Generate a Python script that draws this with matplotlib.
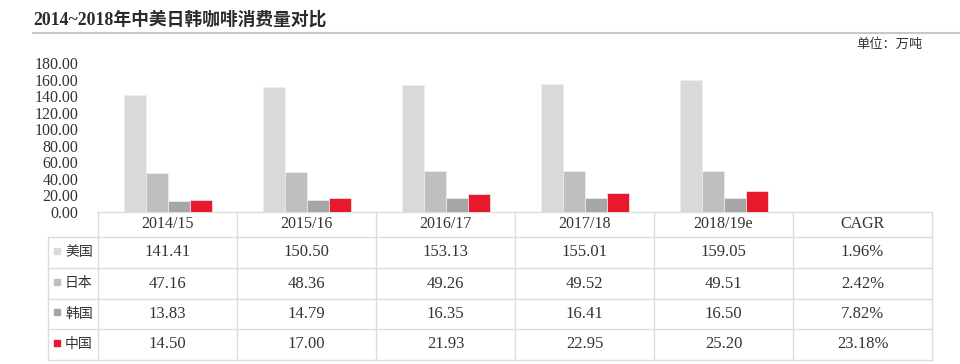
import matplotlib
matplotlib.use("Agg")
import matplotlib.pyplot as plt
import numpy as np

# data
periods = ["2014/15", "2015/16", "2016/17", "2017/18", "2018/19e"]
countries = ["美国", "日本", "韩国", "中国"]
usa = [141.41, 150.50, 153.13, 155.01, 159.05]
japan = [47.16, 48.36, 49.26, 49.52, 49.51]
korea = [13.83, 14.79, 16.35, 16.41, 16.50]
china = [14.50, 17.00, 21.93, 22.95, 25.20]
cagr = ["1.96%", "2.42%", "7.82%", "23.18%"]
yticks = np.arange(0, 181, 20)

colors = ["#d9d9d9", "#bfbfbf", "#a6a6a6", "#e8192c"]
fam = ["Liberation Serif", "Noto Sans CJK SC"]
W, H = 960, 364

fig = plt.figure(figsize=(9.6, 3.64), dpi=100)

# pixel overlay for title and table
ov = fig.add_axes([0, 0, 1, 1])
ov.set_xlim(0, W)
ov.set_ylim(H, 0)
ov.axis("off")

ov.text(33, 20, "2014~2018年中美日韩咖啡消费量对比", family=fam, fontsize=12.8,
        fontweight="bold", color="#2b2b2b", va="center", ha="left")
ov.plot([33, 960], [33, 33], color="#c8c8c8", lw=1.5)
ov.text(923, 45, "单位：万吨", family=fam, fontsize=9.5, color="#333333",
        va="center", ha="right")

# table geometry
x0, lab0 = 98, 48
colw = 139
ncol = len(periods) + 1
xr = x0 + colw * ncol
rows_y = [212, 237, 268, 299, 329, 360]
gc = "#dcdcdc"
for i, y in enumerate(rows_y):
    ov.plot([x0 if i == 0 else lab0, xr], [y, y], color=gc, lw=1)
ov.plot([lab0, lab0], [rows_y[1], rows_y[-1]], color=gc, lw=1)
for j in range(ncol + 1):
    ov.plot([x0 + j * colw] * 2, [rows_y[0], rows_y[-1]], color=gc, lw=1)

headers = periods + ["CAGR"]
for j, h in enumerate(headers):
    ov.text(x0 + colw * (j + 0.5), (rows_y[0] + rows_y[1]) / 2, h, family=fam,
            fontsize=11.5, color="#333333", ha="center", va="center")

series = [usa, japan, korea, china]
for i, (name, vals) in enumerate(zip(countries, series)):
    yc = (rows_y[i + 1] + rows_y[i + 2]) / 2
    ov.add_patch(plt.Rectangle((54, yc - 5), 6, 6, color=colors[i]))
    ov.text(65, yc, name, family=fam, fontsize=10, color="#333333",
            ha="left", va="center")
    cells = ["%.2f" % v for v in vals] + [cagr[i]]
    for j, c in enumerate(cells):
        ov.text(x0 + colw * (j + 0.5), yc, c, family=fam, fontsize=12,
                color="#333333", ha="center", va="center")

# bar chart
ax = fig.add_axes([x0 / W, (H - 212) / H, (xr - x0) / W, (212 - 63) / H])
x = np.arange(len(periods))
bw = 22 / colw
for i, vals in enumerate(series):
    ax.bar(x + (i - 1.5) * bw, vals, width=bw, color=colors[i],
           edgecolor="#eeeeee", linewidth=0.5)
ax.set_xlim(-0.5, ncol - 0.5)
ax.set_ylim(0, 180)
ax.set_yticks(yticks)
ax.set_yticklabels(["%.2f" % v for v in yticks], family=fam, fontsize=11.5,
                   color="#333333")
ax.tick_params(axis="y", length=0, pad=14)
ax.set_xticks([])
for s in ax.spines.values():
    s.set_visible(False)
ax.patch.set_alpha(0)

fig.savefig("out.png", dpi=100)
